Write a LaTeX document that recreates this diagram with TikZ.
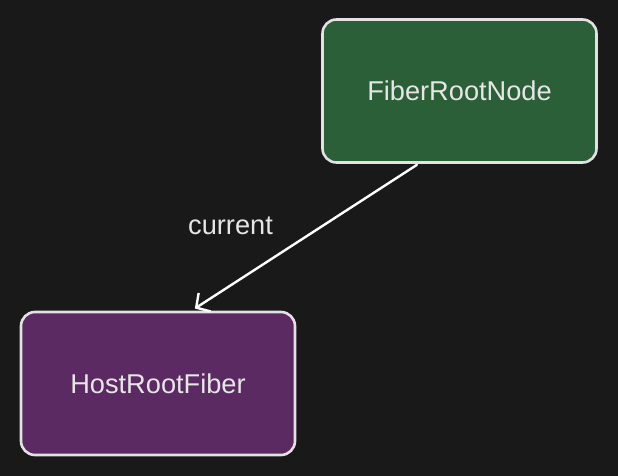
\documentclass[tikz,border=0pt]{standalone}
\usepackage{fontspec}
\setmainfont{Liberation Sans}
\usetikzlibrary{arrows.meta}
\definecolor{bgdark}{HTML}{191919}
\definecolor{rootgreen}{HTML}{2B5F37}
\definecolor{fiberpurple}{HTML}{5C2A62}
\definecolor{edgegray}{HTML}{E2E2E2}
\definecolor{textgray}{HTML}{E6E6E6}
\tikzset{
  card/.style={draw=edgegray, line width=2.6pt, rounded corners=14pt,
    minimum width=274pt, minimum height=143pt, inner sep=0pt,
    text=textgray, font=\fontsize{27.2}{31}\selectfont},
  link/.style={draw=white, line width=2.4pt, line cap=round,
    shorten <=2pt, shorten >=4pt,
    -{Straight Barb[length=10pt, width=22pt, line width=2.4pt]}},
  tag/.style={text=textgray, font=\fontsize{27.2}{31}\selectfont}
}
\begin{document}
\begin{tikzpicture}[x=1pt, y=-1pt]
  \fill[bgdark] (0,0) rectangle (618,476);
  \useasboundingbox (0,0) rectangle (618,476);
  \node[card, fill=rootgreen] (root) at (459.5,91) {FiberRootNode};
  \node[card, fill=fiberpurple] (host) at (158,383.5) {HostRootFiber};
  % the "current" pointer from the root node down to the host fiber
  \draw[link] ([xshift=-41pt]root.south) -- ([xshift=33.5pt]host.north);
  \node[tag] (cur) at (230.5,226) {current};
\end{tikzpicture}
\end{document}
